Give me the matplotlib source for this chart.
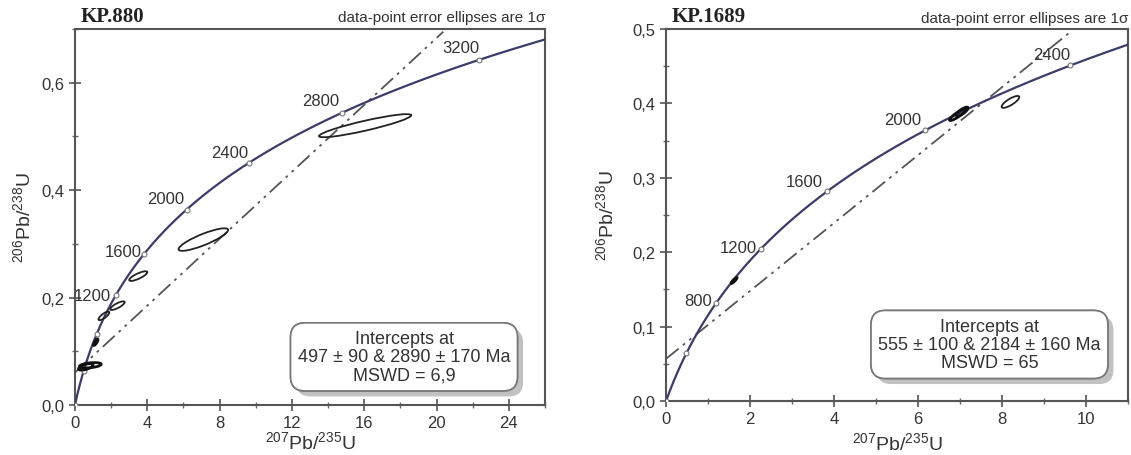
import numpy as np
import matplotlib
matplotlib.use('Agg')
import matplotlib.pyplot as plt
import matplotlib.patheffects as pe
from matplotlib.patches import Ellipse
from matplotlib.ticker import MultipleLocator, FuncFormatter

plt.rcParams['font.family'] = ['Liberation Sans', 'DejaVu Sans']
plt.rcParams['mathtext.fontset'] = 'custom'
plt.rcParams['mathtext.rm'] = 'Liberation Sans'

# decay constants, per Ma
L235 = 9.8485e-4
L238 = 1.55125e-4

# --- KP.880 ---
ages_880 = [0, 400, 800, 1200, 1600, 2000, 2400, 2800, 3200]
labels_880 = [1200, 1600, 2000, 2400, 2800, 3200]
intercepts_880 = [497, 2890]
int_err_880 = [90, 170]
mswd_880 = '6,9'
ell_x_880 = [16.05, 7.1, 3.5, 2.35, 1.6, 1.15, 0.85, 0.6]
ell_y_880 = [0.520, 0.308, 0.240, 0.185, 0.166, 0.117, 0.074, 0.071]
ell_sx_880 = [2.55, 1.37, 0.5, 0.4, 0.3, 0.12, 0.6, 0.4]
ell_sy_880 = [0.0215, 0.021, 0.009, 0.008, 0.008, 0.006, 0.005, 0.006]
ell_rho_880 = [0.9, 0.85, 0.8, 0.8, 0.8, 0.8, 0.4, 0.6]
ell_dark_880 = [False, False, False, False, False, True, True, True]

# --- KP.1689 ---
ages_1689 = [0, 400, 800, 1200, 1600, 2000, 2400]
labels_1689 = [800, 1200, 1600, 2000, 2400]
intercepts_1689 = [555, 2184]
int_err_1689 = [100, 160]
mswd_1689 = '65'
ell_x_1689 = [8.2, 6.95, 7.05, 1.62]
ell_y_1689 = [0.402, 0.385, 0.389, 0.162]
ell_sx_1689 = [0.21, 0.2, 0.14, 0.07]
ell_sy_1689 = [0.008, 0.008, 0.006, 0.004]
ell_rho_1689 = [0.8, 0.9, 0.8, 0.9]
ell_dark_1689 = [False, True, True, True]


def conc(t):
    t = np.asarray(t, dtype=float)
    return np.exp(L235 * t) - 1, np.exp(L238 * t) - 1


def comma(v, pos):
    return ('%.1f' % v).replace('.', ',')


def panel(ax, name, ages, labels, offs, ints, errs, mswd, ex, ey, esx, esy, erho, edark,
          xmax, ymax, ytop_line, xmaj, xmin_, ymaj, ymin_, boxpos, xlab_y, ylab_x):
    ax.set_xlim(0, xmax)
    ax.set_ylim(0, ymax)
    # concordia
    tmax = np.log(xmax + 1) / L235
    tt = np.linspace(0, tmax, 300)
    cx, cy = conc(tt)
    ax.plot(cx, cy, color='#3c3c6a', lw=1.6, zorder=3)
    mx, my = conc(ages)
    ax.plot(mx, my, 'o', ms=3.5, mfc='white', mec='#777', mew=0.8, zorder=4)
    for a in labels:
        lx, ly = conc(a)
        dx, dy = offs[a]
        ax.annotate(str(a), (lx, ly), xytext=(dx, dy), textcoords='offset pixels',
                    ha='right', va='center', fontsize=12, color='#333', zorder=5)
    # discordia
    (x1, x2), (y1, y2) = conc(ints)
    slope = (y2 - y1) / (x2 - x1)
    y0 = y1 - slope * x1
    xe = (ytop_line - y0) / slope
    ax.plot([0, xe], [y0, ytop_line], color='#555', lw=1.3,
            ls=(0, (9, 3, 1.5, 3, 1.5, 3)), zorder=2)
    # error ellipses
    for x, y, sx, sy, r, d in zip(ex, ey, esx, esy, erho, edark):
        cov = np.array([[sx * sx, r * sx * sy], [r * sx * sy, sy * sy]])
        vals, vecs = np.linalg.eigh(cov)
        ang = np.degrees(np.arctan2(vecs[1, 1], vecs[0, 1]))
        e = Ellipse((x, y), 2 * np.sqrt(vals[1]), 2 * np.sqrt(vals[0]), angle=ang,
                    fill=False, ec='#111' if d else '#222', lw=2.0 if d else 1.3, zorder=6)
        ax.add_patch(e)
    # ticks
    ax.xaxis.set_major_locator(MultipleLocator(xmaj))
    ax.xaxis.set_minor_locator(MultipleLocator(xmin_))
    ax.yaxis.set_major_locator(MultipleLocator(ymaj))
    ax.yaxis.set_minor_locator(MultipleLocator(ymin_))
    ax.yaxis.set_major_formatter(FuncFormatter(comma))
    ax.xaxis.set_major_formatter(FuncFormatter(lambda v, p: '%d' % v))
    ax.tick_params(which='major', direction='inout', length=9, width=1.2, color='#555',
                   labelsize=12, labelcolor='#333', pad=3)
    ax.tick_params(which='minor', direction='inout', length=5, width=1.0, color='#666')
    for s in ax.spines.values():
        s.set_color('#555')
        s.set_linewidth(1.5)
    ax.set_xlabel(r'$^{207}$Pb/$^{235}$U', fontsize=14, color='#333')
    ax.set_ylabel(r'$^{206}$Pb/$^{238}$U', fontsize=14, color='#333')
    ax.xaxis.set_label_coords(0.5, xlab_y)
    ax.yaxis.set_label_coords(ylab_x, 0.5)
    ax.text(0.012, 1.008, name, transform=ax.transAxes, ha='left', va='bottom',
            fontsize=15, fontweight='bold', family='Liberation Serif', color='#222')
    ax.text(1.0, 1.012, 'data-point error ellipses are 1\u03c3', transform=ax.transAxes,
            ha='right', va='bottom', fontsize=11, color='#333')
    txt = 'Intercepts at\n%d \u00b1 %d & %d \u00b1 %d Ma\nMSWD = %s' % (
        ints[0], errs[0], ints[1], errs[1], mswd)
    t = ax.text(boxpos[0], boxpos[1], txt, transform=ax.transAxes, ha='center', va='center',
                fontsize=13, color='#333', linespacing=1.1, zorder=7,
                bbox=dict(boxstyle='round,pad=0.4,rounding_size=0.8', fc='white',
                          ec='#777', lw=1.2))
    t.get_bbox_patch().set_path_effects([
        pe.withSimplePatchShadow(offset=(4, -4), shadow_rgbFace='#999', alpha=0.6),
        pe.Normal()])


fig = plt.figure(figsize=(11.31, 4.56), dpi=100)
ax1 = fig.add_axes([0.0663, 0.1096, 0.4156, 0.8246])
ax2 = fig.add_axes([0.5889, 0.1184, 0.4085, 0.8158])

offs_880 = {1200: (-5, 0), 1600: (-3, 2), 2000: (-2, 11), 2400: (-1, 10),
            2800: (-3, 12), 3200: (0, 12)}
offs_1689 = {800: (-4, 2), 1200: (-4, 1), 1600: (-4, 10), 2000: (-4, 11), 2400: (0, 11)}

panel(ax1, 'KP.880', ages_880, labels_880, offs_880, intercepts_880, int_err_880, mswd_880,
      ell_x_880, ell_y_880, ell_sx_880, ell_sy_880, ell_rho_880, ell_dark_880,
      26, 0.7, 0.695, 4, 2, 0.2, 0.1, (0.70, 0.128), -0.069, -0.085)
panel(ax2, 'KP.1689', ages_1689, labels_1689, offs_1689, intercepts_1689, int_err_1689,
      mswd_1689, ell_x_1689, ell_y_1689, ell_sx_1689, ell_sy_1689, ell_rho_1689,
      ell_dark_1689, 11, 0.5, 0.495, 2, 1, 0.1, 0.05, (0.70, 0.152), -0.081, -0.104)

fig.savefig('out.png', dpi=100)
